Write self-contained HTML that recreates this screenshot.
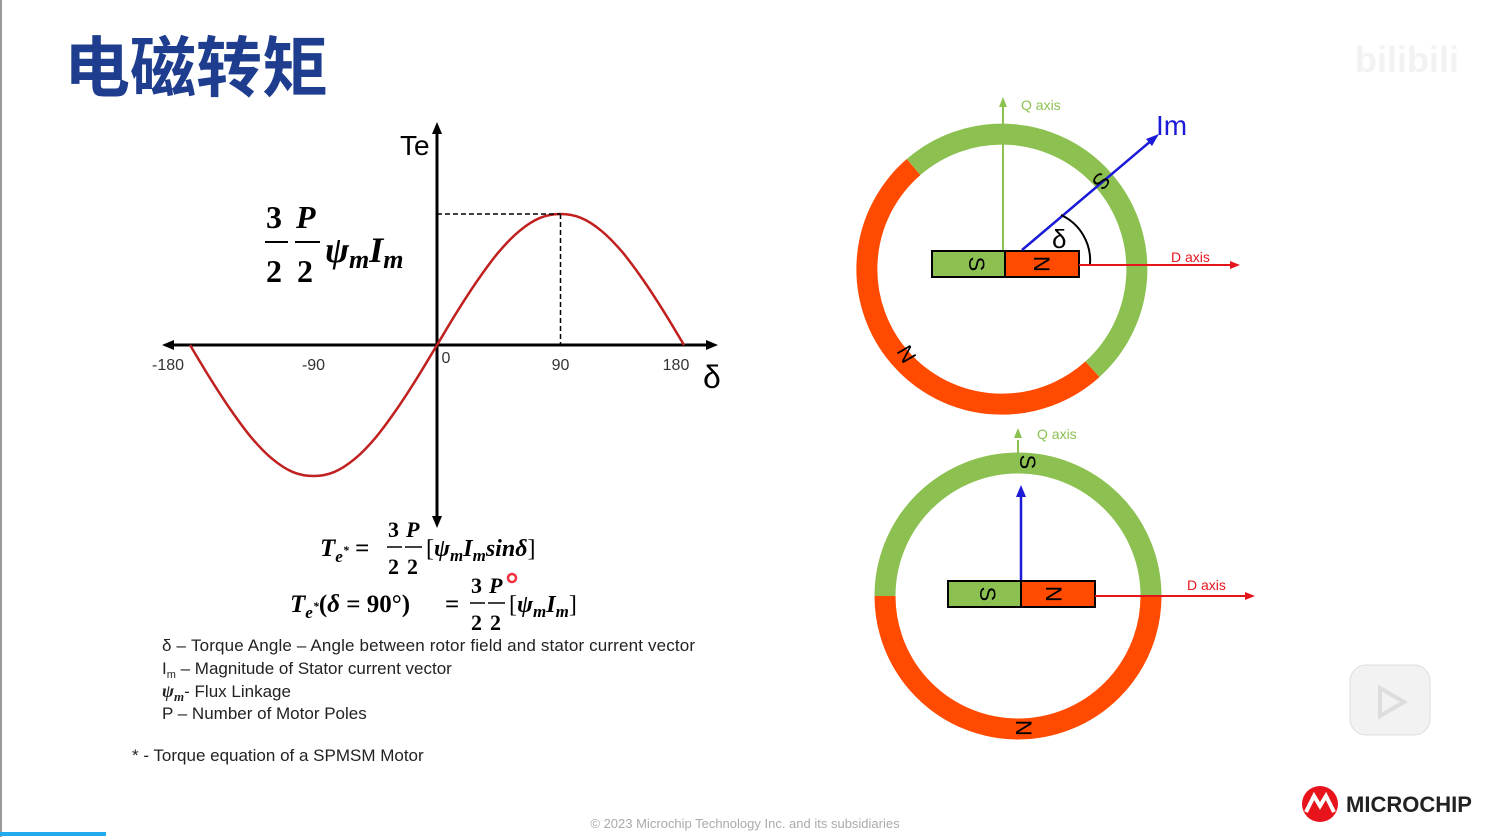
<!DOCTYPE html>
<html><head><meta charset="utf-8"><style>
html,body{margin:0;padding:0;background:#fff;}
svg{display:block;font-family:"Liberation Sans","Noto Sans CJK SC",sans-serif;}
.m{font-family:"Liberation Serif",serif;font-weight:bold;font-style:italic;}
.n{font-family:"Liberation Serif",serif;font-weight:bold;}
</style></head><body>
<svg id="s" width="1489" height="837" viewBox="0 0 1489 837">
<rect x="0" y="0" width="1489" height="837" fill="#fff"/>
<line x1="1" y1="0" x2="1" y2="837" stroke="#999" stroke-width="2"/>
<rect x="0" y="832" width="106" height="4" fill="#22aaee"/>
<text x="64" y="91" font-size="66" fill="#1f3d8f" font-weight="bold" font-family="'Noto Sans CJK SC',sans-serif">电磁转矩</text>
<text x="1355" y="72" font-size="36" fill="#f2f2f2" font-weight="bold">bilibili</text>

<!-- chart -->
<g id="chart">
<line x1="165" y1="345" x2="712" y2="345" stroke="#000" stroke-width="3"/>
<polygon points="162,345 174,340 174,350" fill="#000"/>
<polygon points="718,345 706,340 706,350" fill="#000"/>
<line x1="437" y1="128" x2="437" y2="522" stroke="#000" stroke-width="3"/>
<polygon points="437,122 432,134 442,134" fill="#000"/>
<polygon points="437,528 432,516 442,516" fill="#000"/>
<text x="400" y="155" font-size="28">Te</text>
<text x="703" y="388" font-size="32">δ</text>
<g id="ticks"></g>
<path id="curve" fill="none" stroke="#c0201f" stroke-width="2.5"/>
<line id="hd" stroke="#000" stroke-width="1.5" stroke-dasharray="5,3"/>
<line id="vd" stroke="#000" stroke-width="1.5" stroke-dasharray="5,3"/>
<g>
<text x="266" y="228" font-size="32" class="n">3</text>
<line x1="265" y1="242" x2="288" y2="242" stroke="#000" stroke-width="2"/>
<text x="266" y="282" font-size="32" class="n">2</text>
<text x="296" y="228" font-size="32" class="m">P</text>
<line x1="295" y1="242" x2="320" y2="242" stroke="#000" stroke-width="2"/>
<text x="297" y="282" font-size="32" class="n">2</text>
<text x="325" y="262" font-size="36" class="m">ψ<tspan font-size="26" dy="6">m</tspan><tspan dy="-6">I</tspan><tspan font-size="26" dy="6">m</tspan></text>
</g>
</g>

<!-- equations -->
<g>
<text x="320" y="556" font-size="25" class="m">T<tspan font-size="17" dy="6">e</tspan><tspan font-size="12" dy="-8">*</tspan><tspan dy="2"> </tspan><tspan font-style="normal">=</tspan></text>
<text x="388" y="537" font-size="22" class="n">3</text><line x1="387" y1="547" x2="402" y2="547" stroke="#000" stroke-width="1.5"/><text x="388" y="574" font-size="22" class="n">2</text>
<text x="406" y="537" font-size="22" class="m">P</text><line x1="405" y1="547" x2="422" y2="547" stroke="#000" stroke-width="1.5"/><text x="407" y="574" font-size="22" class="n">2</text>
<text x="426" y="556" font-size="24" class="m"><tspan font-style="normal" font-weight="normal">[</tspan>ψ<tspan font-size="17" dy="5">m</tspan><tspan dy="-5">I</tspan><tspan font-size="17" dy="5">m</tspan><tspan dy="-5">sinδ</tspan><tspan font-style="normal" font-weight="normal">]</tspan></text>
</g>
<g>
<text x="290" y="612" font-size="25" class="m">T<tspan font-size="17" dy="6">e</tspan><tspan font-size="12" dy="-8">*</tspan><tspan dy="2" font-style="normal">(</tspan>δ<tspan font-style="normal"> = 90°)</tspan></text>
<text x="445" y="612" font-size="25" class="n">=</text>
<text x="471" y="593" font-size="22" class="n">3</text><line x1="470" y1="603" x2="485" y2="603" stroke="#000" stroke-width="1.5"/><text x="471" y="630" font-size="22" class="n">2</text>
<text x="489" y="593" font-size="22" class="m">P</text><line x1="488" y1="603" x2="505" y2="603" stroke="#000" stroke-width="1.5"/><text x="490" y="630" font-size="22" class="n">2</text>
<circle cx="512" cy="578" r="4" fill="none" stroke="#f03040" stroke-width="2.5"/>
<text x="509" y="612" font-size="24" class="m"><tspan font-style="normal" font-weight="normal">[</tspan>ψ<tspan font-size="17" dy="5">m</tspan><tspan dy="-5">I</tspan><tspan font-size="17" dy="5">m</tspan><tspan dy="-5" font-style="normal" font-weight="normal">]</tspan></text>
</g>
<g font-size="17" fill="#222">
<text x="162" y="651" textLength="533">δ – Torque Angle – Angle between rotor field and stator current vector</text>
<text x="162" y="674">I<tspan font-size="11" dy="4">m</tspan><tspan dy="-4"> – Magnitude of Stator current vector</tspan></text>
<text x="162" y="697"><tspan class="m" font-size="18">ψ<tspan font-size="13" dy="4">m</tspan></tspan><tspan dy="-4">- Flux Linkage</tspan></text>
<text x="162" y="719">P – Number of Motor Poles</text>
<text x="132" y="761">* - Torque equation of a SPMSM Motor</text>
</g>

<!-- motor diagram 1 -->
<g>
<path d="M1092.5,369.2 A135,135 0 1 1 913.6,167.0" fill="none" stroke="#ff4a00" stroke-width="21"/>
<path d="M913.6,167.0 A135,135 0 0 1 1092.5,369.2" fill="none" stroke="#8cc152" stroke-width="21"/>
<line x1="1003" y1="266" x2="1003" y2="104" stroke="#8cc152" stroke-width="2"/>
<polygon points="1003,97 999,107 1007,107" fill="#8cc152"/>
<text x="1021" y="110" font-size="14" fill="#8cc152">Q axis</text>
<rect x="932" y="251" width="73" height="26" fill="#8cc152" stroke="#000" stroke-width="2"/>
<rect x="1005" y="251" width="74" height="26" fill="#ff4a00" stroke="#000" stroke-width="2"/>
<text x="975" y="264" font-size="22" text-anchor="middle" dominant-baseline="middle" transform="rotate(90 975 264)">S</text>
<text x="1040" y="264" font-size="22" text-anchor="middle" dominant-baseline="middle" transform="rotate(90 1040 264)">N</text>
<line x1="1079" y1="265" x2="1232" y2="265" stroke="#e8141c" stroke-width="2"/>
<polygon points="1240,265 1230,261 1230,269" fill="#e8141c"/>
<text x="1171" y="262" font-size="14" fill="#e8141c">D axis</text>
<line x1="1022" y1="250" x2="1152" y2="140" stroke="#1a1ad8" stroke-width="2.5"/>
<polygon points="1159,134 1146,139 1152,146" fill="#1a1ad8"/>
<text x="1156" y="135" font-size="28" fill="#1a1ad8">Im</text>
<path d="M1061,215 A50,50 0 0 1 1090,264" fill="none" stroke="#000" stroke-width="2"/>
<text x="1052" y="248" font-size="26">δ</text>
<text x="1100" y="180" font-size="22" text-anchor="middle" dominant-baseline="middle" transform="rotate(130 1100 180)">S</text>
<text x="905" y="355" font-size="22" text-anchor="middle" dominant-baseline="middle" transform="rotate(60 905 355)">N</text>
</g>

<!-- motor diagram 2 -->
<g>
<path d="M885,596 A133,133 0 0 1 1151,596" fill="none" stroke="#8cc152" stroke-width="21"/>
<path d="M1151,596 A133,133 0 0 1 885,596" fill="none" stroke="#ff4a00" stroke-width="21"/>
<line x1="1018" y1="440" x2="1018" y2="456" stroke="#8cc152" stroke-width="2"/>
<polygon points="1018,428 1014,438 1022,438" fill="#8cc152"/>
<text x="1037" y="439" font-size="14" fill="#8cc152">Q axis</text>
<text x="1026" y="462" font-size="22" text-anchor="middle" dominant-baseline="middle" transform="rotate(90 1026 462)">S</text>
<line x1="1021" y1="580" x2="1021" y2="493" stroke="#1a1ad8" stroke-width="2.5"/>
<polygon points="1021,485 1016,497 1026,497" fill="#1a1ad8"/>
<rect x="948" y="581" width="73" height="26" fill="#8cc152" stroke="#000" stroke-width="2"/>
<rect x="1021" y="581" width="74" height="26" fill="#ff4a00" stroke="#000" stroke-width="2"/>
<text x="986" y="594" font-size="22" text-anchor="middle" dominant-baseline="middle" transform="rotate(90 986 594)">S</text>
<text x="1052" y="594" font-size="22" text-anchor="middle" dominant-baseline="middle" transform="rotate(90 1052 594)">N</text>
<line x1="1095" y1="596" x2="1247" y2="596" stroke="#e8141c" stroke-width="2"/>
<polygon points="1255,596 1245,592 1245,600" fill="#e8141c"/>
<text x="1187" y="590" font-size="14" fill="#e8141c">D axis</text>
<text x="1022" y="728" font-size="22" text-anchor="middle" dominant-baseline="middle" transform="rotate(90 1022 728)">N</text>
</g>

<g>
<rect x="1350" y="665" width="80" height="70" rx="16" fill="#f2f2f2" stroke="#ddd"/>
<polygon points="1380,688 1380,716 1404,702" fill="none" stroke="#ddd" stroke-width="4"/>
</g>
<g>
<circle cx="1320" cy="804" r="18" fill="#e8141c"/>
<path d="M1306,812 L1314,796 L1320,806 L1326,796 L1334,812" fill="none" stroke="#fff" stroke-width="4"/>
<text x="1346" y="812" font-size="22" font-weight="bold" fill="#222">MICROCHIP</text>
</g>
<text x="745" y="828" font-size="13" fill="#aaa" text-anchor="middle">© 2023 Microchip Technology Inc. and its subsidiaries</text>
</svg>
<script>
const angles=[-180,-165,-150,-135,-120,-105,-90,-75,-60,-45,-30,-15,0,15,30,45,60,75,90,105,120,135,150,165,180];
const torque=[0,-0.26,-0.5,-0.71,-0.87,-0.97,-1,-0.97,-0.87,-0.71,-0.5,-0.26,0,0.26,0.5,0.71,0.87,0.97,1,0.97,0.87,0.71,0.5,0.26,0];
const tickLabels=["-180","-90","0","90","180"];
const tickValues=[-180,-90,0,90,180];
const peakAngle=90, peakValue=1;
const X=d=>437+d*(247/180);
const Y=v=>345-v*131;
const ns="http://www.w3.org/2000/svg";
let pts=angles.map((a,i)=>[X(a),Y(torque[i])]);
let d="M"+pts[0][0]+","+pts[0][1];
for(let i=0;i<pts.length-1;i++){const p0=pts[Math.max(i-1,0)],p1=pts[i],p2=pts[i+1],p3=pts[Math.min(i+2,pts.length-1)];
d+=` C${p1[0]+(p2[0]-p0[0])/6},${p1[1]+(p2[1]-p0[1])/6} ${p2[0]-(p3[0]-p1[0])/6},${p2[1]-(p3[1]-p1[1])/6} ${p2[0]},${p2[1]}`;}
document.getElementById('curve').setAttribute('d',d);
const hd=document.getElementById('hd');
hd.setAttribute('x1',X(0));hd.setAttribute('x2',X(peakAngle));hd.setAttribute('y1',Y(peakValue));hd.setAttribute('y2',Y(peakValue));
const vd=document.getElementById('vd');
vd.setAttribute('x1',X(peakAngle));vd.setAttribute('x2',X(peakAngle));vd.setAttribute('y1',Y(peakValue));vd.setAttribute('y2',Y(0));
const tg=document.getElementById('ticks');
tickValues.forEach((v,i)=>{const t=document.createElementNS(ns,'text');


let x=X(v);if(v===0)x+=9;if(v===-180)x-=22;if(v===180)x-=8;
t.setAttribute('x',x);t.setAttribute('y',v===0?363:370);t.setAttribute('font-size','16');t.setAttribute('fill','#333');t.setAttribute('text-anchor','middle');
t.textContent=tickLabels[i];tg.appendChild(t);});
</script>
</body></html>
